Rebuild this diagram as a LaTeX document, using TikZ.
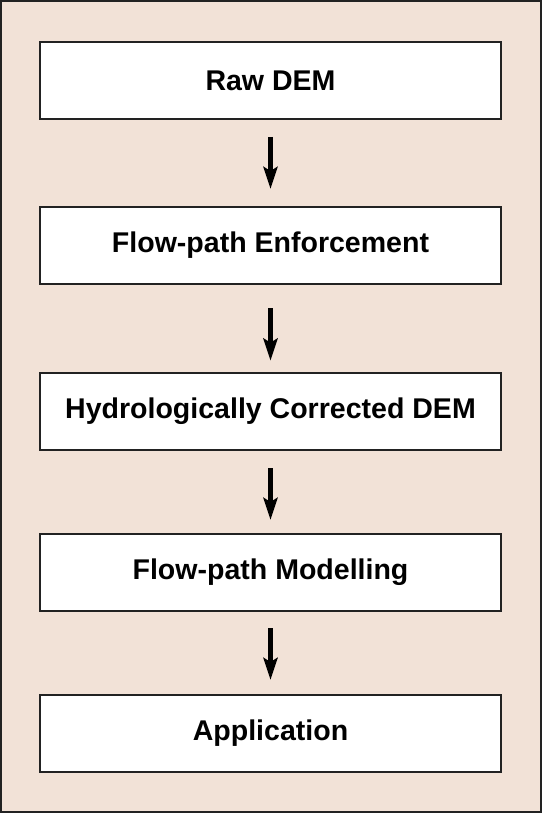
\documentclass[tikz,border=0pt]{standalone}
\usepackage{fontspec}
\setmainfont{Liberation Sans}
\usetikzlibrary{arrows.meta}
\definecolor{bgc}{HTML}{F2E2D7}
\definecolor{edge}{HTML}{222222}
\begin{document}
\begin{tikzpicture}[x=0.75pt,y=-0.75pt,
  stepbox/.style={draw=edge,line width=1.5pt,fill=white,minimum width=345.75pt,minimum height=57.75pt,inner sep=0pt,font=\bfseries\fontsize{21.4}{25}\selectfont},
  flowarrow/.style={line width=3.6pt,-{Stealth[length=16.5pt,width=10.5pt,inset=3pt]}}]
\draw[draw=edge,fill=bgc,line width=1.5pt] (1,1) rectangle (541,812);
\useasboundingbox (0,0) rectangle (542,813);
\node[stepbox] (a) at (270.5,80.5) {Raw DEM};
\node[stepbox] (b) at (270.5,245.5) {Flow-path Enforcement};
\node[stepbox] (c) at (270.5,411.5) {Hydrologically Corrected DEM};
\node[stepbox] (d) at (270.5,572) {Flow-path Modelling};
\node[stepbox] (e) at (270.5,733.5) {Application};
\draw[flowarrow] ([yshift=-12.75pt]a.south) -- ([yshift=12.75pt]b.north);
\draw[flowarrow] ([yshift=-17.25pt]b.south) -- ([yshift=8.5pt]c.north);
\draw[flowarrow] ([yshift=-12.75pt]c.south) -- ([yshift=9.4pt]d.north);
\draw[flowarrow] ([yshift=-12.4pt]d.south) -- ([yshift=10.5pt]e.north);
\end{tikzpicture}
\end{document}
